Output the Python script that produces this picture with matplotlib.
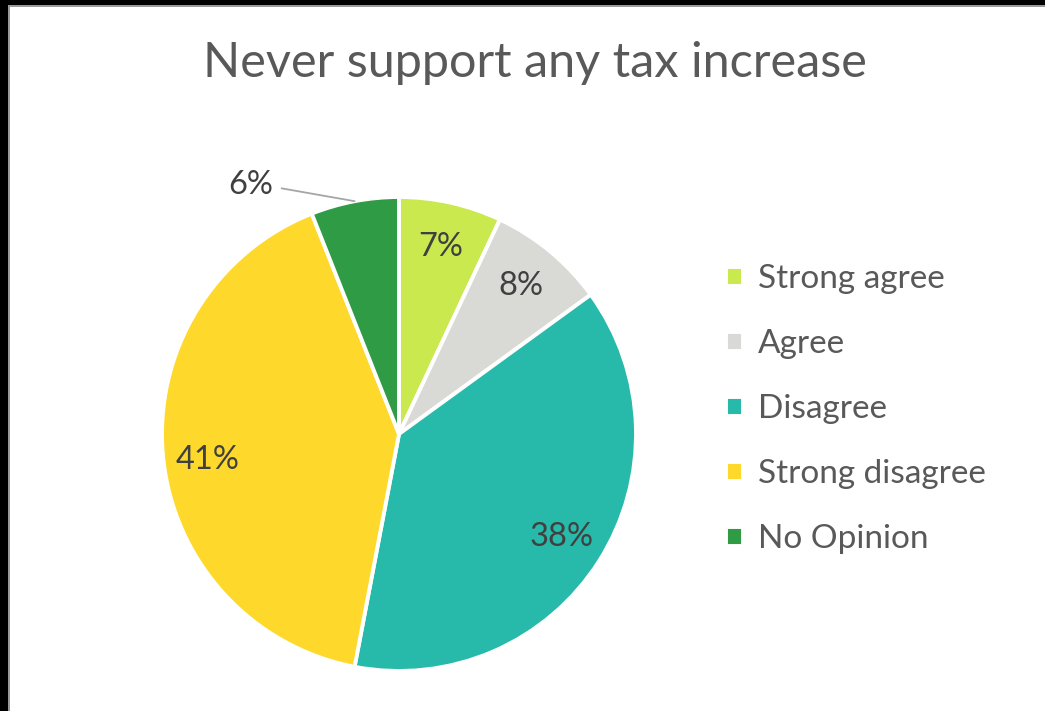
import matplotlib.pyplot as plt
from matplotlib.patches import Rectangle
import numpy as np

categories = ['Strong agree', 'Agree', 'Disagree', 'Strong disagree', 'No Opinion']
values = [7, 8, 38, 41, 6]
colors = ['#C9E94F', '#D9D9D6', '#27B9A9', '#FED92B', '#2F9B45']

TEXT = '#595959'
LABEL = '#404040'
plt.rcParams['font.family'] = ['Lato', 'DejaVu Sans']

W, H = 1045, 711
fig = plt.figure(figsize=(W / 100, H / 100), dpi=100)

# screenshot frame: black strip left and top
for x0, y0, w, h, c in [(0, 0, 8, H, 'black'), (0, H - 5, W, 5, 'black'),
                        (8, 0, 1.5, H - 5, '#9a9a9a'), (8, H - 6.5, W - 8, 1.5, '#9a9a9a')]:
    fig.add_artist(Rectangle((x0 / W, y0 / H), w / W, h / H, transform=fig.transFigure,
                             facecolor=c, edgecolor='none', zorder=10))

cx, cy, r = 399, 434, 237
ax = fig.add_axes([(cx - r) / W, (H - cy - r) / H, 2 * r / W, 2 * r / H])

wedges, texts, autotexts = ax.pie(
    values, colors=colors, startangle=90, counterclock=False,
    autopct='%1.0f%%', pctdistance=0.81,
    wedgeprops=dict(edgecolor='white', linewidth=2.8),
    textprops=dict(color=LABEL, fontsize=23.5))
ax.set_xlim(-1, 1)
ax.set_ylim(-1, 1)
ax.set_aspect('equal')
ax.axis('off')

# the big slice's label sits a bit lower in the original
x, y = autotexts[3].get_position()
autotexts[3].set_position((x, y - 0.035))

# last slice label sits outside with a leader line
w = wedges[-1]
mid = np.deg2rad((w.theta1 + w.theta2) / 2)
autotexts[-1].set_visible(False)
ax.annotate(autotexts[-1].get_text(), xy=(np.cos(mid), np.sin(mid)),
            xytext=(-0.53, 1.05), ha='right', va='center', color=LABEL, fontsize=23.5,
            arrowprops=dict(arrowstyle='-', color='#a6a6a6', lw=1.3,
                            connectionstyle='angle,angleA=0,angleB=-10,rad=0',
                            shrinkA=4, shrinkB=0))

fig.text(535 / W, 1 - 63 / H, 'Never support any tax increase', ha='center', va='center',
         fontsize=35, color=TEXT)

leg = fig.legend(wedges, categories, loc='upper left', bbox_to_anchor=(696 / W, 1 - 234 / H),
                 frameon=False, fontsize=24, labelcolor=TEXT, handlelength=0.5, handleheight=0.5,
                 handletextpad=0.45, labelspacing=1.05)

plt.savefig('out.png', dpi=100)
